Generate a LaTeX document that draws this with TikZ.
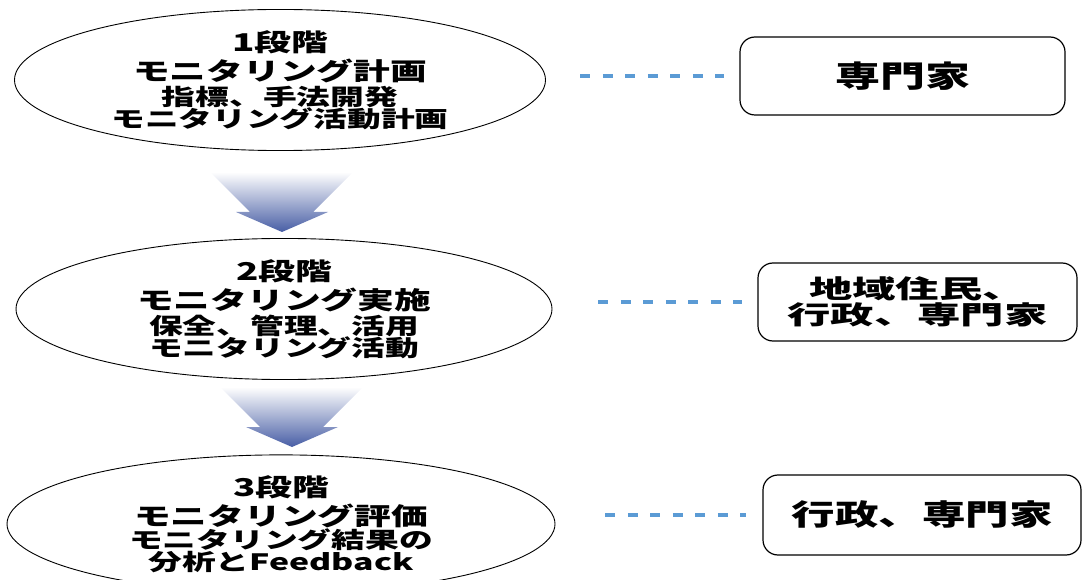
\documentclass[tikz,border=0pt]{standalone}
\usepackage{fontspec}
\usepackage{xcolor}
\usetikzlibrary{shapes.geometric}
\newfontfamily\jpfont[FakeStretch=1.5]{Noto Sans CJK JP}
\newfontfamily\jpwidefont[FakeStretch=1.7]{Noto Sans CJK JP}
\definecolor{linkblue}{RGB}{91,155,213}
\definecolor{arrowblue}{RGB}{72,94,165}
\setlength{\lineskiplimit}{-100pt}
\tikzset{
  stage/.style={ellipse, draw, line width=0.9pt, inner sep=0pt, align=center,
    font=\jpfont\bfseries\fontsize{22.5}{21}\selectfont},
  actor/.style={draw, line width=1.2pt, rounded corners=15pt, align=center, inner sep=0pt,
    font=\jpfont\bfseries},
  link/.style={linkblue, line width=3.5pt, dash pattern=on 10pt off 12.5pt},
  stagearrow/.pic={
    \shade[top color=white, middle color=arrowblue!35, bottom color=arrowblue]
      (-72,-60) -- (71,-60) -- (31,-20) -- (46,-20) -- (0,0) -- (-46,-20) -- (-32,-20) -- cycle;
  }
}
\newcommand{\stagehead}[1]{{\fontsize{24.5}{21}\selectfont #1}}

\begin{document}
\begin{tikzpicture}[x=1pt, y=-1pt]
\useasboundingbox (0,0) rectangle (1088,580);

% stages
\node[stage, minimum width=531pt, minimum height=140pt] (e1) at (280,80)
  {\stagehead{1段階}\\[8pt] \stagehead{モニタリング計画}\\[4pt] 指標、手法開発\\[1.5pt] モニタリング活動計画};
\node[stage, minimum width=536pt, minimum height=132pt] (e2) at (284,309)
  {\stagehead{2段階}\\[8pt] \stagehead{モニタリング実施}\\[4pt] 保全、管理、活用\\[1.5pt] モニタリング活動};
\node[stage, minimum width=548pt, minimum height=112pt] (e3) at (281,524)
  {\stagehead{3段階}\\[8pt] \stagehead{モニタリング評価}\\[2pt] モニタリング結果の\\[1.5pt] 分析とFeedback};

% flow
\pic at (282,232) {stagearrow};
\pic at (292,447) {stagearrow};

% who
\node[actor, minimum width=325pt, minimum height=78pt, font=\jpfont\bfseries\fontsize{30}{30}\selectfont] (b1) at (902.5,76)
  {専門家};
\node[actor, minimum width=319pt, minimum height=78pt, font=\jpwidefont\bfseries\fontsize{25.5}{26}\selectfont] (b2) at (917.5,302)
  {地域住民、\\ 行政、専門家};
\node[actor, minimum width=318pt, minimum height=80pt, font=\jpfont\bfseries\fontsize{29}{29}\selectfont] (b3) at (922,515)
  {行政、専門家};

\draw[link, shorten <=34.5pt, shorten >=15pt] (b1.west -| e1.east) -- (b1.west);
\draw[link, shorten <=46pt, shorten >=15pt] (b2.west -| e2.east) -- (b2.west);
\draw[link, shorten <=50pt, shorten >=16pt] (b3.west -| e3.east) -- (b3.west);
\end{tikzpicture}
\end{document}
